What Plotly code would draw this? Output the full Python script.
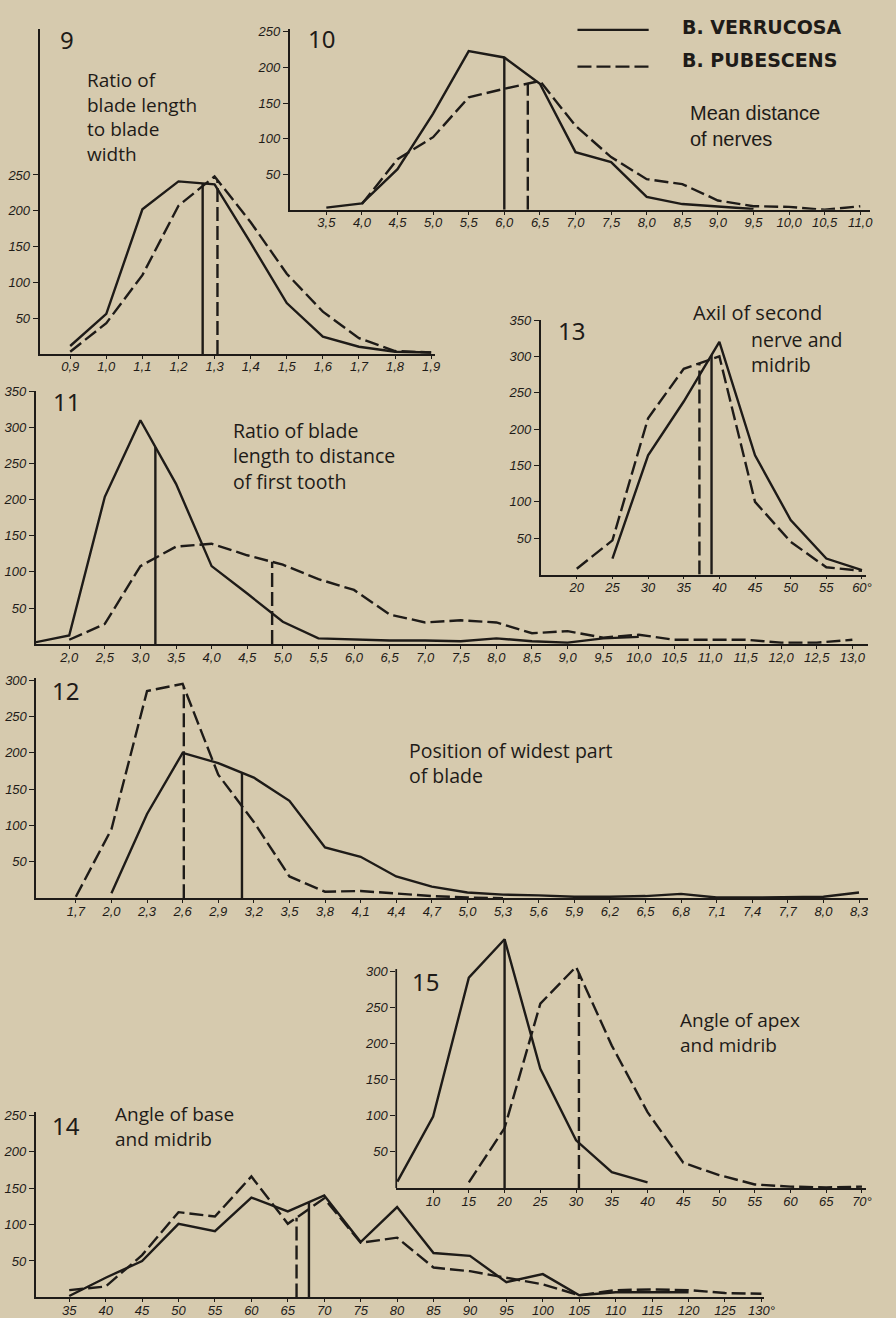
import numpy as np
import plotly.graph_objects as go

W, H = 896, 1318
INK = "#1e1b18"
PAPER = "#d6caae"

# ---------------- data ----------------
# Panel 9: ratio of blade length to blade width
p9_x = [0.9, 1.0, 1.1, 1.2, 1.3, 1.4, 1.5, 1.6, 1.7, 1.8, 1.9]
p9_verrucosa = [11, 56, 202, 241, 237, 155, 71, 24, 10, 3, 2]
p9_pubescens = [3, 43, 110, 207, 248, 184, 112, 59, 22, 4, 2]
p9_mean_verrucosa = 1.267
p9_mean_pubescens = 1.308
p9_xticks = [0.9, 1.0, 1.1, 1.2, 1.3, 1.4, 1.5, 1.6, 1.7, 1.8, 1.9]
p9_xlabels = ["0,9", "1,0", "1,1", "1,2", "1,3", "1,4", "1,5", "1,6", "1,7", "1,8", "1,9"]
p9_yticks = [50, 100, 150, 200, 250]

# Panel 10: mean distance of nerves
p10_x_verrucosa = [3.5, 4.0, 4.5, 5.0, 5.5, 6.0, 6.5, 7.0, 7.5, 8.0, 8.5, 9.0, 9.5]
p10_verrucosa = [3, 9, 57, 135, 223, 214, 177, 81, 67, 18, 8, 4, 1]
p10_x_pubescens = [4.0, 4.5, 5.0, 5.5, 6.0, 6.5, 7.0, 7.5, 8.0, 8.5, 9.0, 9.5, 10.0, 10.5, 11.0]
p10_pubescens = [8, 71, 102, 158, 170, 181, 118, 74, 43, 36, 13, 5, 4, 0, 5]
p10_mean_verrucosa = 6.0
p10_mean_pubescens = 6.33
p10_xticks = [3.5, 4.0, 4.5, 5.0, 5.5, 6.0, 6.5, 7.0, 7.5, 8.0, 8.5, 9.0, 9.5, 10.0, 10.5, 11.0]
p10_xlabels = ["3,5", "4,0", "4,5", "5,0", "5,5", "6,0", "6,5", "7,0", "7,5", "8,0",
               "8,5", "9,0", "9,5", "10,0", "10,5", "11,0"]
p10_yticks = [50, 100, 150, 200, 250]

# Panel 11: ratio of blade length to distance of first tooth
p11_x_verrucosa = [1.5, 2.0, 2.5, 3.0, 3.5, 4.0, 4.5, 5.0, 5.5, 6.0, 6.5, 7.0, 7.5, 8.0, 8.5, 9.0, 9.5, 10.0]
p11_verrucosa = [2, 12, 204, 310, 222, 108, 70, 31, 8, 6, 5, 5, 4, 8, 4, 2, 8, 10]
p11_x_pubescens = [2.0, 2.5, 3.0, 3.5, 4.0, 4.5, 5.0, 5.5, 6.0, 6.5, 7.0, 7.5, 8.0, 8.5,
                   9.0, 9.5, 10.0, 10.5, 11.0, 11.5, 12.0, 12.5, 13.0]
p11_pubescens = [6, 28, 108, 135, 139, 123, 110, 90, 75, 41, 30, 33, 30, 15,
                 18, 9, 13, 6, 6, 6, 2, 2, 6]
p11_mean_verrucosa = 3.21
p11_mean_pubescens = 4.85
p11_xticks = [2.0, 2.5, 3.0, 3.5, 4.0, 4.5, 5.0, 5.5, 6.0, 6.5, 7.0, 7.5, 8.0, 8.5,
              9.0, 9.5, 10.0, 10.5, 11.0, 11.5, 12.0, 12.5, 13.0]
p11_xlabels = ["2,0", "2,5", "3,0", "3,5", "4,0", "4,5", "5,0", "5,5", "6,0", "6,5", "7,0",
               "7,5", "8,0", "8,5", "9,0", "9,5", "10,0", "10,5", "11,0", "11,5", "12,0",
               "12,5", "13,0"]
p11_yticks = [50, 100, 150, 200, 250, 300, 350]

# Panel 12: position of widest part of blade
p12_x_verrucosa = [2.0, 2.3, 2.6, 2.9, 3.2, 3.5, 3.8, 4.1, 4.4, 4.7, 5.0, 5.3, 5.6, 5.9,
                   6.2, 6.5, 6.8, 7.1, 7.4, 7.7, 8.0, 8.3]
p12_verrucosa = [7, 116, 200, 186, 166, 134, 70, 57, 30, 16, 8, 5, 4, 2,
                 2, 3, 6, 1, 1, 1, 2, 8]
p12_x_pubescens = [1.7, 2.0, 2.3, 2.6, 2.9, 3.2, 3.5, 3.8, 4.1, 4.4, 4.7, 5.0, 5.3]
p12_pubescens = [2, 95, 285, 295, 170, 105, 30, 9, 10, 6, 3, 1, 0]
p12_mean_verrucosa = 3.1
p12_mean_pubescens = 2.61
p12_xticks = [1.7, 2.0, 2.3, 2.6, 2.9, 3.2, 3.5, 3.8, 4.1, 4.4, 4.7, 5.0, 5.3, 5.6, 5.9,
              6.2, 6.5, 6.8, 7.1, 7.4, 7.7, 8.0, 8.3]
p12_xlabels = ["1,7", "2,0", "2,3", "2,6", "2,9", "3,2", "3,5", "3,8", "4,1", "4,4", "4,7",
               "5,0", "5,3", "5,6", "5,9", "6,2", "6,5", "6,8", "7,1", "7,4", "7,7", "8,0", "8,3"]
p12_yticks = [50, 100, 150, 200, 250, 300]

# Panel 13: axil of second nerve and midrib
p13_x_verrucosa = [25, 30, 35, 40, 45, 50, 55, 60]
p13_verrucosa = [22, 164, 238, 320, 164, 75, 22, 6]
p13_x_pubescens = [20, 25, 30, 35, 40, 45, 50, 55, 60]
p13_pubescens = [8, 47, 215, 283, 300, 100, 45, 10, 5]
p13_mean_verrucosa = 38.9
p13_mean_pubescens = 37.2
p13_xticks = [20, 25, 30, 35, 40, 45, 50, 55, 60]
p13_xlabels = ["20", "25", "30", "35", "40", "45", "50", "55", "60°"]
p13_yticks = [50, 100, 150, 200, 250, 300, 350]

# Panel 14: angle of base and midrib
p14_x_verrucosa = [35, 40, 45, 50, 55, 60, 65, 70, 75, 80, 85, 90, 95, 100, 105, 110, 115, 120]
p14_verrucosa = [2, 27, 50, 101, 91, 137, 118, 140, 76, 124, 61, 57, 21, 32, 3, 7, 7, 7]
p14_x_pubescens = [35, 40, 45, 50, 55, 60, 65, 70, 75, 80, 85, 90, 95, 100, 105, 110,
                   115, 120, 125, 130]
p14_pubescens = [10, 15, 58, 117, 111, 166, 101, 136, 75, 82, 41, 36, 27, 18, 3, 10,
                 11, 10, 6, 5]
p14_mean_verrucosa = 67.9
p14_mean_pubescens = 66.2
p14_xticks = [35, 40, 45, 50, 55, 60, 65, 70, 75, 80, 85, 90, 95, 100, 105, 110, 115, 120, 125, 130]
p14_xlabels = ["35", "40", "45", "50", "55", "60", "65", "70", "75", "80", "85", "90", "95",
               "100", "105", "110", "115", "120", "125", "130°"]
p14_yticks = [50, 100, 150, 200, 250]

# Panel 15: angle of apex and midrib
p15_x_verrucosa = [5, 10, 15, 20, 25, 30, 35, 40]
p15_verrucosa = [9, 99, 291, 344, 165, 66, 22, 8]
p15_x_pubescens = [15, 20, 25, 30, 35, 40, 45, 50, 55, 60, 65, 70]
p15_pubescens = [8, 83, 255, 306, 197, 105, 35, 18, 5, 2, 1, 2]
p15_mean_verrucosa = 20.0
p15_mean_pubescens = 30.4
p15_xticks = [10, 15, 20, 25, 30, 35, 40, 45, 50, 55, 60, 65, 70]
p15_xlabels = ["10", "15", "20", "25", "30", "35", "40", "45", "50", "55", "60", "65", "70°"]
p15_yticks = [50, 100, 150, 200, 250, 300]

# ---------------- layout geometry (pixels on the page) ----------------
def lin(v1, p1, v2, p2, p):
    return v1 + (p - p1) * (v2 - v1) / (p2 - p1)

panels = [
    dict(xa=(0.9, 71, 1.9, 436), xpx=(40, 440), ya=(0, 349, 250, 169), ypx=(22, 349),
         xt=p9_xticks, xl=p9_xlabels, yt=p9_yticks,
         v=(p9_x, p9_verrucosa, p9_mean_verrucosa), p=(p9_x, p9_pubescens, p9_mean_pubescens)),
    dict(xa=(3.5, 330, 11.0, 870), xpx=(293, 880), ya=(0, 204, 250, 25), ypx=(22, 204),
         xt=p10_xticks, xl=p10_xlabels, yt=p10_yticks,
         v=(p10_x_verrucosa, p10_verrucosa, p10_mean_verrucosa),
         p=(p10_x_pubescens, p10_pubescens, p10_mean_pubescens)),
    dict(xa=(2.0, 70, 13.0, 862), xpx=(36, 878), ya=(0, 641, 350, 386.7), ypx=(386.7, 641),
         xt=p11_xticks, xl=p11_xlabels, yt=p11_yticks,
         v=(p11_x_verrucosa, p11_verrucosa, p11_mean_verrucosa),
         p=(p11_x_pubescens, p11_pubescens, p11_mean_pubescens)),
    dict(xa=(1.7, 76.7, 8.3, 868.7), xpx=(36.7, 878), ya=(0, 896.7, 300, 677.3), ypx=(675, 896.7),
         xt=p12_xticks, xl=p12_xlabels, yt=p12_yticks,
         v=(p12_x_verrucosa, p12_verrucosa, p12_mean_verrucosa),
         p=(p12_x_pubescens, p12_pubescens, p12_mean_pubescens)),
    dict(xa=(20, 583.3, 60, 871.7), xpx=(546.7, 876), ya=(0, 571, 350, 315), ypx=(315, 571),
         xt=p13_xticks, xl=p13_xlabels, yt=p13_yticks,
         v=(p13_x_verrucosa, p13_verrucosa, p13_mean_verrucosa),
         p=(p13_x_pubescens, p13_pubescens, p13_mean_pubescens)),
    dict(xa=(10, 438, 70, 871.7), xpx=(400.7, 876), ya=(0, 1188.3, 300, 970), ypx=(933, 1188.3),
         xt=p15_xticks, xl=p15_xlabels, yt=p15_yticks, yline_top=303,
         v=(p15_x_verrucosa, p15_verrucosa, p15_mean_verrucosa),
         p=(p15_x_pubescens, p15_pubescens, p15_mean_pubescens)),
    dict(xa=(35, 70, 130, 770), xpx=(36, 773), ya=(0, 1298.3, 250, 1115), ypx=(1112, 1298.3),
         xt=p14_xticks, xl=p14_xlabels, yt=p14_yticks,
         v=(p14_x_verrucosa, p14_verrucosa, p14_mean_verrucosa),
         p=(p14_x_pubescens, p14_pubescens, p14_mean_pubescens)),
]

TICKFONT = dict(family="Liberation Sans", size=13, color=INK, style="italic")
DASH = "14px,5px"
LW = 2.4

fig = go.Figure()
layout = {}
shapes = []

for i, pn in enumerate(panels, start=1):
    sx = "" if i == 1 else str(i)
    xname, yname = "x" + sx, "y" + sx
    v1, p1, v2, p2 = pn["xa"]
    xr = [lin(v1, p1, v2, p2, pn["xpx"][0]), lin(v1, p1, v2, p2, pn["xpx"][1])]
    w1, q1, w2, q2 = pn["ya"]
    yr = [lin(w1, q1, w2, q2, pn["ypx"][1]), lin(w1, q1, w2, q2, pn["ypx"][0])]

    own_yline = "yline_top" not in pn
    layout["xaxis" + sx] = dict(
        domain=[pn["xpx"][0] / W, pn["xpx"][1] / W], range=xr, anchor=yname,
        showline=True, linecolor=INK, linewidth=1.7, ticks="outside", ticklen=3,
        tickwidth=1.2, tickcolor=INK, tickvals=pn["xt"], ticktext=pn["xl"],
        tickfont=TICKFONT, ticklabelstandoff=-3,
        showgrid=False, zeroline=False, fixedrange=True,
    )
    layout["yaxis" + sx] = dict(
        domain=[1 - pn["ypx"][1] / H, 1 - pn["ypx"][0] / H], range=yr, anchor=xname,
        showline=own_yline, linecolor=INK, linewidth=1.7, ticks="outside", ticklen=5,
        tickwidth=1.2, tickcolor=INK, tickvals=pn["yt"], ticktext=[str(t) for t in pn["yt"]],
        tickfont=TICKFONT, showgrid=False, zeroline=False, fixedrange=True,
    )
    if not own_yline:
        shapes.append(dict(type="line", xref=xname + " domain", yref=yname,
                           x0=0, x1=0, y0=0, y1=pn["yline_top"],
                           line=dict(color=INK, width=1.7)))

    xv, yv, mv = pn["v"]
    xp, yp, mp = pn["p"]
    fig.add_trace(go.Scatter(x=xv, y=yv, mode="lines", name="B. VERRUCOSA",
                             line=dict(color=INK, width=LW), xaxis=xname, yaxis=yname,
                             showlegend=False, legendgroup="v"))
    fig.add_trace(go.Scatter(x=xp, y=yp, mode="lines", name="B. PUBESCENS",
                             line=dict(color=INK, width=LW, dash=DASH), xaxis=xname, yaxis=yname,
                             showlegend=False, legendgroup="p"))
    # mean lines rising from the axis to the curve
    hv = float(np.interp(mv, xv, yv))
    hp = float(np.interp(mp, xp, yp))
    fig.add_trace(go.Scatter(x=[mv, mv], y=[0, hv], mode="lines", name="mean B. verrucosa",
                             line=dict(color=INK, width=LW), xaxis=xname, yaxis=yname,
                             showlegend=False, hoverinfo="skip"))
    fig.add_trace(go.Scatter(x=[mp, mp], y=[0, hp], mode="lines", name="mean B. pubescens",
                             line=dict(color=INK, width=LW, dash=DASH), xaxis=xname, yaxis=yname,
                             showlegend=False, hoverinfo="skip"))

def P(x, y):
    return x / W, 1 - y / H

annotations = []
def txt(text, x, y, size=20, family="Open Sans", weight="normal", yanchor="middle"):
    ax, ay = P(x, y)
    annotations.append(dict(text=text, x=ax, y=ay, xref="paper", yref="paper",
                            xanchor="left", yanchor=yanchor, showarrow=False,
                            font=dict(family=family, size=size, color=INK, weight=weight),
                            align="left"))

NUMFONT = "Noto Sans"
# panel numbers
txt("9", 59, 33, size=24, family=NUMFONT)
txt("10", 309, 32, size=24, family=NUMFONT)
txt("11", 52, 397, size=24, family=NUMFONT)
txt("12", 51, 688, size=24, family=NUMFONT)
txt("13", 562, 325, size=24, family=NUMFONT)
txt("14", 51, 1125, size=24, family=NUMFONT)
txt("15", 415, 980, size=24, family=NUMFONT)

# captions (multi-line blocks, top anchored)
txt("Ratio of<br>blade length<br>to blade<br>width", 86, 58, size=19, yanchor="top")
txt("Mean distance<br>of nerves", 696, 94, family="Liberation Sans", size=20, yanchor="top")
txt("Ratio of blade<br>length to distance<br>of first tooth", 234, 410, size=19.5, yanchor="top")
txt("Axil of second", 699, 307, size=20)
txt("nerve and<br>midrib", 757, 319, size=19.5, yanchor="top")
txt("Position of widest part<br>of blade", 412, 732, size=19.5, yanchor="top")
txt("Angle of apex<br>and midrib", 686, 1004, size=19, yanchor="top")
txt("Angle of base<br>and midrib", 114, 1099, size=19, yanchor="top")

# legend
for yy, ty, label, dash in [(23, 20, "B. VERRUCOSA", None), (60, 53, "B. PUBESCENS", DASH)]:
    x0, y0 = P(584, yy)
    x1, _ = P(656, yy)
    ln = dict(color=INK, width=2.4)
    if dash:
        ln["dash"] = dash
    shapes.append(dict(type="line", xref="paper", yref="paper", x0=x0, x1=x1, y0=y0, y1=y0, line=ln))
    txt(label, 688, ty, size=19, family="DejaVu Sans", weight="bold")

fig.update_layout(
    width=W, height=H, margin=dict(l=0, r=0, t=0, b=0),
    paper_bgcolor=PAPER, plot_bgcolor="rgba(0,0,0,0)",
    showlegend=False, shapes=shapes, annotations=annotations,
    **layout,
)

fig.write_html("out.html")
